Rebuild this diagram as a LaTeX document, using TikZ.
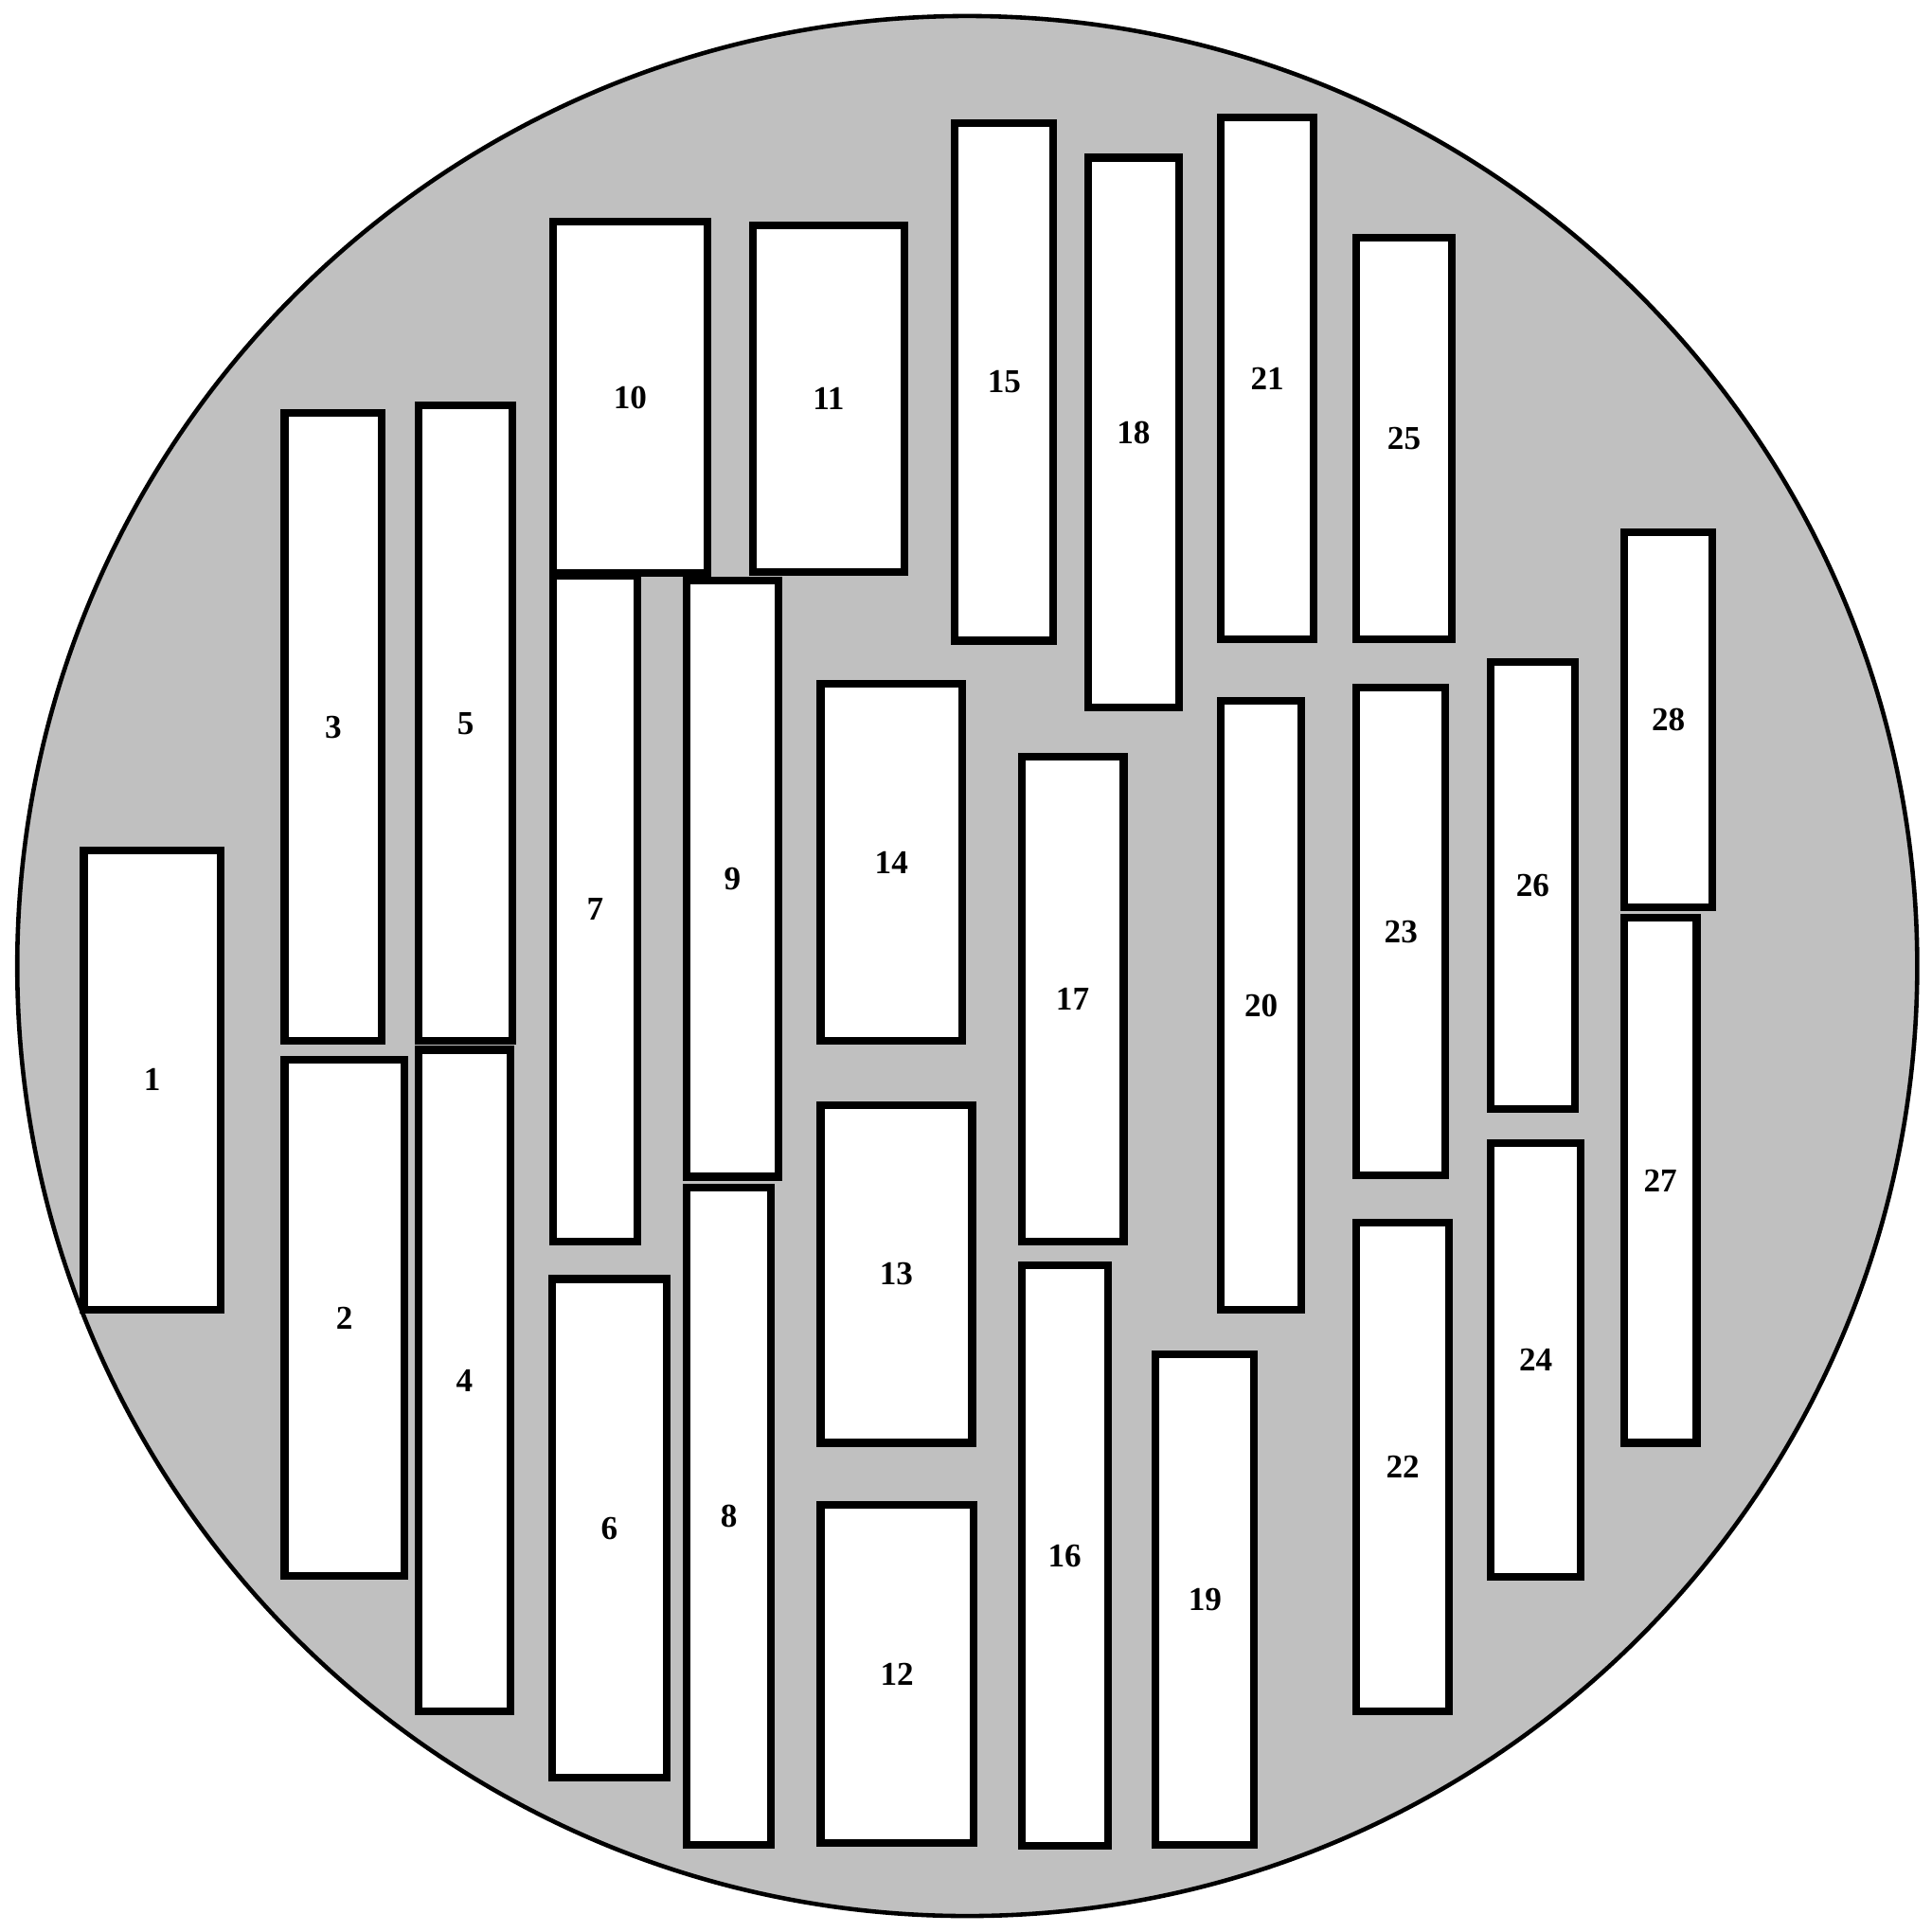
\documentclass[tikz,border=0pt]{standalone}
\usepackage{fontspec}
\setmainfont{Liberation Serif}
\usetikzlibrary{fit}
\definecolor{platecol}{HTML}{C0C0C0}

\begin{document}
\begin{tikzpicture}[x=0.013cm, y=-0.013cm,
  fusebox/.style={draw, line width=2.3pt, fill=white, inner sep=0pt,
                  label={[font=\bfseries]center:#1}}]
  \useasboundingbox (0,0) rectangle (1568,1568);
  \draw[line width=1.3pt, fill=platecol] (785,784) circle (771);
  % left block
  \node[fusebox=1,  fit={(68,690) (179,1063)}]   (f1)  {};
  \node[fusebox=3,  fit={(231,335) (310,845)}]   (f3)  {};
  \node[fusebox=5,  fit={(340,329) (416,845)}]   (f5)  {};
  \node[fusebox=2,  fit={(231,860) (328,1279)}]  (f2)  {};
  \node[fusebox=4,  fit={(340,852) (414,1389)}]  (f4)  {};
  \node[fusebox=10, fit={(449,180) (574,465)}]   (f10) {};
  \node[fusebox=7,  fit={(449,467) (517,1008)}]  (f7)  {};
  \node[fusebox=6,  fit={(448,1038) (541,1443)}] (f6)  {};
  \node[fusebox=11, fit={(611,183) (734,464)}]   (f11) {};
  \node[fusebox=9,  fit={(557,471) (632,955)}]   (f9)  {};
  \node[fusebox=8,  fit={(557,964) (626,1497)}]  (f8)  {};
  % middle block
  \node[fusebox=14, fit={(666,555) (781,845)}]   (f14) {};
  \node[fusebox=13, fit={(666,897) (789,1171)}]  (f13) {};
  \node[fusebox=12, fit={(666,1221) (790,1496)}] (f12) {};
  \node[fusebox=15, fit={(775,100) (855,520)}]   (f15) {};
  \node[fusebox=17, fit={(829,614) (912,1008)}]  (f17) {};
  \node[fusebox=16, fit={(829,1027) (899,1498)}] (f16) {};
  \node[fusebox=18, fit={(883,128) (957,574)}]   (f18) {};
  \node[fusebox=19, fit={(938,1099) (1018,1497)}] (f19) {};
  \node[fusebox=21, fit={(991,95) (1066,519)}]   (f21) {};
  \node[fusebox=20, fit={(991,569) (1056,1063)}] (f20) {};
  % right block
  \node[fusebox=25, fit={(1101,193) (1178,519)}] (f25) {};
  \node[fusebox=23, fit={(1101,558) (1173,954)}] (f23) {};
  \node[fusebox=22, fit={(1101,992) (1176,1389)}] (f22) {};
  \node[fusebox=26, fit={(1210,537) (1278,900)}] (f26) {};
  \node[fusebox=24, fit={(1210,928) (1283,1280)}] (f24) {};
  \node[fusebox=28, fit={(1318,432) (1390,736)}] (f28) {};
  \node[fusebox=27, fit={(1318,745) (1377,1171)}] (f27) {};
\end{tikzpicture}
\end{document}
